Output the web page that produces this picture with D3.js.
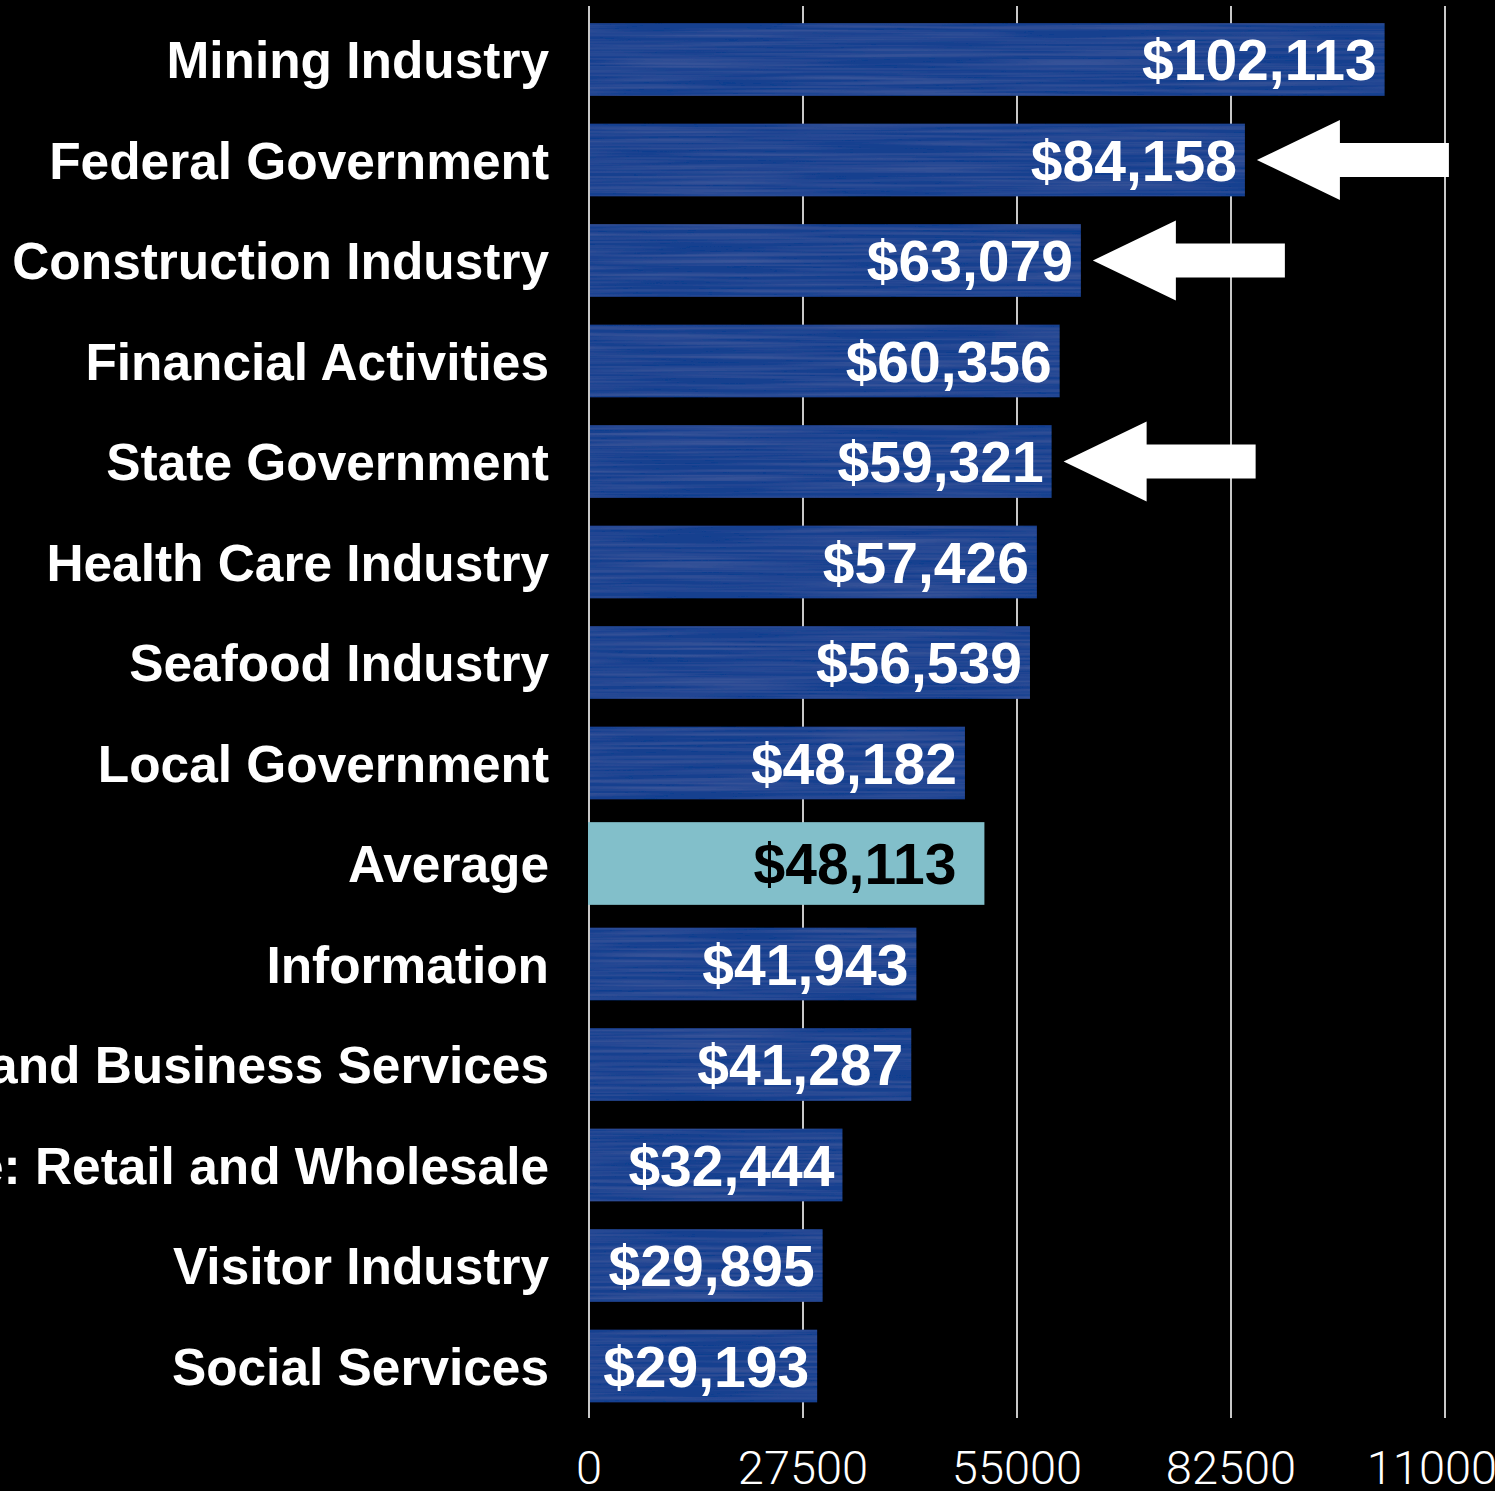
<!DOCTYPE html>
<html>
<head>
<meta charset="utf-8">
<script src="https://cdn.jsdelivr.net/npm/d3@7"></script>
<style>
  html, body { margin: 0; padding: 0; background: #000; }
  svg { display: block; }
</style>
</head>
<body>
<script>
var W = 1495, H = 1491;

var categories = ["Mining Industry", "Federal Government", "Construction Industry",
                  "Financial Activities", "State Government", "Health Care Industry",
                  "Seafood Industry", "Local Government", "Average", "Information",
                  "Professional and Business Services", "Trade: Retail and Wholesale",
                  "Visitor Industry", "Social Services"];
var wages = [102113, 84158, 63079, 60356, 59321, 57426, 56539, 48182, 48113,
             41943, 41287, 32444, 29895, 29193];
var tickValues = [0, 27500, 55000, 82500, 110000];
var highlighted = ["Average"];
var arrowed = ["Federal Government", "Construction Industry", "State Government"];

var data = categories.map(function(c, i) { return {name: c, value: wages[i]}; });

var x = d3.scaleLinear().domain([0, 110000]).range([589, 1445]);
var y = d3.scaleBand().domain(categories)
          .range([9.25, 1416.25])
          .paddingInner(0.2766)
          .paddingOuter(0.1383);

var svg = d3.select("body").append("svg")
    .attr("width", W)
    .attr("height", H)
    .style("background", "#000");

// faint brushed texture for the blue bars
var defs = svg.append("defs");
var f = defs.append("filter").attr("id", "brushed")
    .attr("x", 0).attr("y", 0).attr("width", 1).attr("height", 1);
f.append("feTurbulence").attr("type", "fractalNoise")
    .attr("baseFrequency", "0.005 0.3").attr("numOctaves", 2).attr("seed", 4)
    .attr("result", "noise");
f.append("feColorMatrix").attr("in", "noise").attr("type", "matrix")
    .attr("values", "0 0 0 0 0.6  0 0 0 0 0.7  0 0 0 0 1  0.12 0 0 0 -0.04")
    .attr("result", "streaks");
f.append("feComposite").attr("in", "streaks").attr("in2", "SourceGraphic")
    .attr("operator", "in").attr("result", "clipped");
var merge = f.append("feMerge");
merge.append("feMergeNode").attr("in", "SourceGraphic");
merge.append("feMergeNode").attr("in", "clipped");

// grid lines
svg.append("g").selectAll("line")
    .data(tickValues)
    .enter().append("line")
    .attr("x1", function(d) { return x(d); })
    .attr("x2", function(d) { return x(d); })
    .attr("y1", 6)
    .attr("y2", 1418)
    .attr("stroke", "#c8c8c8")
    .attr("stroke-width", 2);

// tick labels
svg.append("g").selectAll("text")
    .data(tickValues)
    .enter().append("text")
    .attr("x", function(d) { return x(d); })
    .attr("y", 1484)
    .attr("text-anchor", "middle")
    .attr("fill", "#fff")
    .style("font-family", "Roboto, 'Liberation Sans', sans-serif")
    .style("font-weight", 300)
    .style("font-size", "47px")
    .text(function(d) { return d; });

// bars
var rows = svg.append("g").selectAll("g")
    .data(data)
    .enter().append("g");

rows.append("rect")
    .attr("x", function(d) { return highlighted.indexOf(d.name) >= 0 ? x(0) - 1 : x(0) + 1; })
    .attr("y", function(d) { return highlighted.indexOf(d.name) >= 0 ? y(d.name) - 5 : y(d.name); })
    .attr("width", function(d) {
        return highlighted.indexOf(d.name) >= 0 ? x(d.value) - x(0) + 22 : x(d.value) - x(0);
    })
    .attr("height", function(d) {
        return highlighted.indexOf(d.name) >= 0 ? y.bandwidth() + 10 : y.bandwidth();
    })
    .attr("fill", function(d) { return highlighted.indexOf(d.name) >= 0 ? "#82bfca" : "#17408f"; })
    .attr("filter", function(d) { return highlighted.indexOf(d.name) >= 0 ? null : "url(#brushed)"; });

// value labels
rows.append("text")
    .attr("x", function(d) { return x(d.value) - 7; })
    .attr("y", function(d) { return y(d.name) + y.bandwidth() / 2; })
    .attr("dy", "0.36em")
    .attr("text-anchor", "end")
    .attr("fill", function(d) { return highlighted.indexOf(d.name) >= 0 ? "#000" : "#fff"; })
    .style("font-family", "'Liberation Sans', Arial, Helvetica, sans-serif")
    .style("font-weight", "bold")
    .style("font-size", "57px")
    .text(function(d) { return "$" + d3.format(",")(d.value); });

// category labels
rows.append("text")
    .attr("x", 549)
    .attr("y", function(d) { return y(d.name) + y.bandwidth() / 2; })
    .attr("dy", "0.36em")
    .attr("text-anchor", "end")
    .attr("fill", "#fff")
    .style("font-family", "'Liberation Sans', Arial, Helvetica, sans-serif")
    .style("font-weight", "bold")
    .style("font-size", "51.4px")
    .text(function(d) { return d.name; });

// arrows pointing at selected bars
var arrowLen = 192, headLen = 83, headHalf = 40, shaftHalf = 17;
svg.append("g").selectAll("path")
    .data(data.filter(function(d) { return arrowed.indexOf(d.name) >= 0; }))
    .enter().append("path")
    .attr("d", function(d) {
        var tx = x(d.value) + 13, cy = y(d.name) + y.bandwidth() / 2;
        return "M" + tx + "," + cy +
               "L" + (tx + headLen) + "," + (cy - headHalf) +
               "L" + (tx + headLen) + "," + (cy - shaftHalf) +
               "L" + (tx + arrowLen) + "," + (cy - shaftHalf) +
               "L" + (tx + arrowLen) + "," + (cy + shaftHalf) +
               "L" + (tx + headLen) + "," + (cy + shaftHalf) +
               "L" + (tx + headLen) + "," + (cy + headHalf) + "Z";
    })
    .attr("fill", "#fff");
</script>
</body>
</html>
